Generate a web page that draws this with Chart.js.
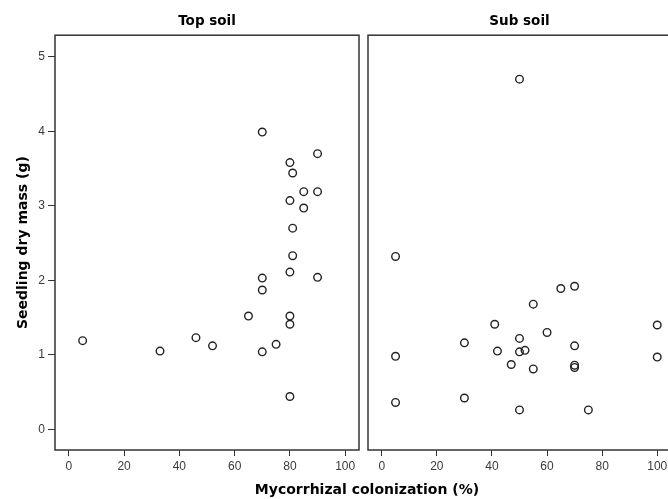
<!DOCTYPE html>
<html>
<head>
<meta charset="utf-8">
<script src="https://cdn.jsdelivr.net/npm/chart.js@4/dist/chart.umd.min.js"></script>
<style>
  html, body { margin: 0; padding: 0; background: #fff; overflow: hidden; width: 668px; height: 499px; }
  #wrap { position: relative; width: 668px; height: 499px; overflow: hidden; }
  #cLeft { position: absolute; left: 0; top: 0; }
  #cRight { position: absolute; left: 360px; top: 0; }
</style>
</head>
<body>
<div id="wrap">
  <canvas id="cLeft" width="734" height="499"></canvas>
  <canvas id="cRight" width="320" height="499"></canvas>
</div>
<script>
// ---- Data ----
const panelTitles = ["Top soil", "Sub soil"];
const xAxisTitle = "Mycorrhizal colonization (%)";
const yAxisTitle = "Seedling dry mass (g)";
const xTicks = [0, 20, 40, 60, 80, 100];
const yTicks = [0, 1, 2, 3, 4, 5];

const topSoilX = [70, 90, 80, 81, 85, 90, 80, 85, 81, 81, 70, 80, 90, 70, 65, 80, 80, 5, 46, 52, 33, 70, 75, 80];
const topSoilY = [3.99, 3.70, 3.58, 3.44, 3.19, 3.19, 3.07, 2.97, 2.70, 2.33, 2.03, 2.11, 2.04, 1.87, 1.52, 1.52, 1.41, 1.19, 1.23, 1.12, 1.05, 1.04, 1.14, 0.44];

const subSoilX = [50, 5, 70, 65, 55, 41, 100, 60, 30, 50, 70, 42, 50, 52, 5, 100, 47, 55, 70, 70, 5, 30, 50, 75];
const subSoilY = [4.70, 2.32, 1.92, 1.89, 1.68, 1.41, 1.40, 1.30, 1.16, 1.22, 1.12, 1.05, 1.04, 1.06, 0.98, 0.97, 0.87, 0.81, 0.86, 0.83, 0.36, 0.42, 0.26, 0.26];

// ---- Styling ----
const X_MIN = -5, X_MAX = 105, Y_MIN = -0.278, Y_MAX = 5.29;
const axisColor = '#333';
const tickFont = { family: "'Liberation Sans', Arial, sans-serif", size: 12 };
const tickColor = '#3a3a3a';
const titleFont = { family: "'DejaVu Sans', sans-serif", size: 14, weight: 'bold', lineHeight: 1.2 };
const panelFont = { family: "'DejaVu Sans', sans-serif", size: 13.5, weight: 'bold', lineHeight: 1.2 };

const toPoints = (xs, ys) => xs.map((x, i) => ({ x: x, y: ys[i] }));

const framePlugin = {
  id: 'frame',
  afterDatasetsDraw(chart) {
    const { ctx, chartArea: a } = chart;
    ctx.save();
    ctx.strokeStyle = axisColor;
    ctx.lineWidth = 1.5;
    ctx.strokeRect(a.left, a.top, a.right - a.left, a.bottom - a.top);
    ctx.restore();
  }
};

function datasetFor(label, xs, ys) {
  return {
    label: label,
    data: toPoints(xs, ys),
    pointStyle: 'circle',
    pointRadius: 3.8,
    pointBorderWidth: 1.4,
    pointBorderColor: '#222',
    pointBackgroundColor: 'rgba(255,255,255,0)',
    showLine: false
  };
}

function xScale() {
  return {
    type: 'linear', position: 'bottom', min: X_MIN, max: X_MAX,
    afterBuildTicks: s => { s.ticks = xTicks.map(v => ({ value: v })); },
    afterFit: s => { s.height = 26.2; },
    ticks: { font: tickFont, color: tickColor, padding: 3, maxRotation: 0, autoSkip: false },
    grid: { display: true, drawOnChartArea: false, drawTicks: true, tickLength: 6, color: axisColor, lineWidth: 1 },
    border: { display: false }
  };
}

function topTitleScale(text) {
  return {
    type: 'linear', position: 'top',
    afterFit: s => { s.height = 35.2; },
    ticks: { display: false },
    grid: { display: false, drawTicks: false },
    border: { display: false },
    title: { display: true, text: text, font: panelFont, color: '#000', padding: { top: 13, bottom: 6 } }
  };
}

// ---- Left panel (Top soil) ----
new Chart(document.getElementById('cLeft'), {
  type: 'scatter',
  data: { datasets: [datasetFor(panelTitles[0], topSoilX, topSoilY)] },
  options: {
    responsive: false, animation: false, devicePixelRatio: 1,
    layout: { padding: 0 },
    plugins: {
      legend: { display: false }, tooltip: { enabled: false },
      title: { display: true, position: 'bottom', text: xAxisTitle, font: titleFont, color: '#000', padding: { top: 6, bottom: 0 } }
    },
    scales: {
      x: xScale(),
      x2: topTitleScale(panelTitles[0]),
      y: {
        type: 'linear', position: 'left', min: Y_MIN, max: Y_MAX,
        afterBuildTicks: s => { s.ticks = yTicks.map(v => ({ value: v })); },
        afterFit: s => { s.width = 55; },
        ticks: { font: tickFont, color: tickColor, padding: 3 },
        grid: { display: true, drawOnChartArea: false, drawTicks: true, tickLength: 7, color: axisColor, lineWidth: 1 },
        border: { display: false },
        title: { display: true, text: yAxisTitle, font: titleFont, color: '#000', padding: { top: 14.6, bottom: 0 } }
      },
      y2: {
        type: 'linear', position: 'right',
        afterFit: s => { s.width = 375; },
        ticks: { display: false },
        grid: { display: false, drawTicks: false },
        border: { display: false }
      }
    }
  },
  plugins: [framePlugin]
});

// ---- Right panel (Sub soil) ----
new Chart(document.getElementById('cRight'), {
  type: 'scatter',
  data: { datasets: [datasetFor(panelTitles[1], subSoilX, subSoilY)] },
  options: {
    responsive: false, animation: false, devicePixelRatio: 1,
    layout: { padding: { left: 8, right: 9, top: 0, bottom: 22.8 } },
    plugins: { legend: { display: false }, tooltip: { enabled: false }, title: { display: false } },
    scales: {
      x: xScale(),
      x2: topTitleScale(panelTitles[1]),
      y: { type: 'linear', display: false, min: Y_MIN, max: Y_MAX }
    }
  },
  plugins: [framePlugin]
});
</script>
</body>
</html>
